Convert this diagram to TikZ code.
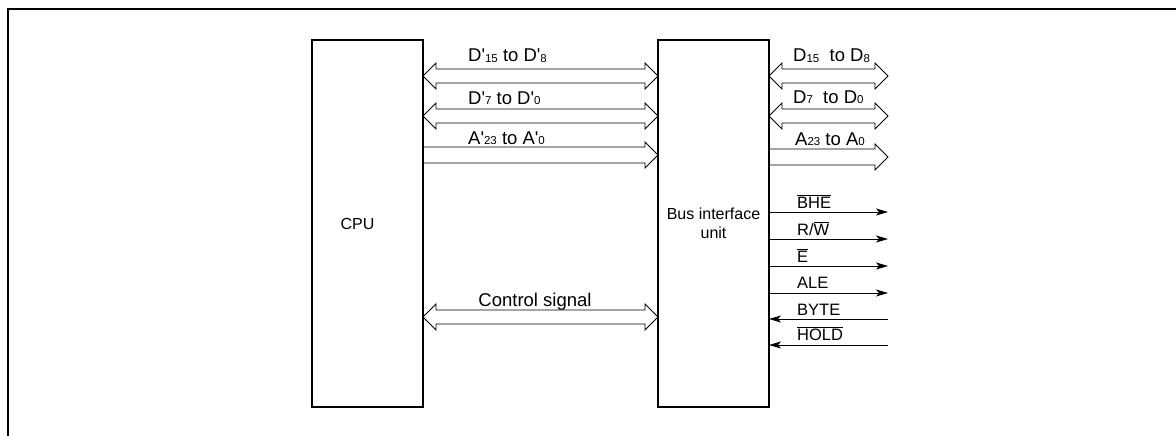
\documentclass[tikz,border=0pt]{standalone}
\usepackage{fontspec}
\setmainfont{Liberation Sans}
\usetikzlibrary{positioning, arrows.meta}

\newcommand{\sub}[1]{\raisebox{-0.8pt}{\fontsize{11.5}{12}\selectfont #1}}
\newcommand{\ovl}[1]{$\overline{\mbox{#1}}$}
\newcommand{\q}{\textquotesingle}

% hollow bus arrow, heads at both ends
\newcommand{\busboth}[2]{%
	\path (#1) coordinate (bs) (#2) coordinate (be);
	\draw[bus] (bs) -- ++(13,-13) -- ++(0,6) -- ([xshift=-13pt,yshift=7pt]be) -- ++(0,-6) -- (be)
		-- ++(-13,13) -- ++(0,-6) -- ([xshift=13pt,yshift=-7pt]bs) -- ++(0,6) -- cycle;}
% hollow bus arrow, head at the right end only
\newcommand{\busright}[2]{%
	\path (#1) coordinate (bs) (#2) coordinate (be);
	\draw[bus] ([yshift=8pt]bs) -- ([xshift=-13pt,yshift=8pt]be) -- ++(0,-5) -- (be)
		-- ++(-13,13) -- ++(0,-5) -- ([yshift=-8pt]bs);}

\begin{document}
\begin{tikzpicture}[
		x=1pt, y=-1pt,
		unit/.style={rectangle, draw, line width=1.3pt, minimum width=111pt,
			minimum height=367pt, align=center, font=\fontsize{16}{19}\selectfont, outer sep=0pt},
		bus/.style={line width=0.8pt, line join=miter},
		sig/.style={-{Stealth[length=12pt, width=7pt, inset=3pt]}, line width=0.8pt},
		lbl/.style={anchor=base west, inner sep=0pt, font=\fontsize{18.5}{19}\selectfont},
		slbl/.style={anchor=base west, inner sep=0pt, font=\fontsize{16.5}{17}\selectfont}
	]
	\useasboundingbox (0,0) rectangle (1176,436);
	\draw[line width=2.2pt] (8,440) |- (1180,9);

	\node[unit] (cpu) at (367.5,223.5) {};
	\node[font=\fontsize{16}{19}\selectfont] (cpulbl) at ([xshift=-10pt]cpu.center) {CPU};
	\node[unit, right=235pt of cpu] (biu) {Bus interface\\unit};

	% buses between CPU and bus interface unit
	\busboth{cpu.east |- 0,76}{biu.west |- 0,76}
	\busboth{cpu.east |- 0,116}{biu.west |- 0,116}
	\busright{cpu.east |- 0,155}{biu.west |- 0,155}
	\busboth{cpu.east |- 0,317}{biu.west |- 0,317}

	\node[lbl] (dhi) at (468,62) {D\q\sub{15} to D\q\sub{8}};
	\node[lbl] (dlo) at (468,104) {D\q\sub{7} to D\q\sub{0}};
	\node[lbl] (adr) at (468,144) {A\q\sub{23} to A\q\sub{0}};
	\node[lbl, anchor=base] (ctl) at (535,306) {Control signal};

	% external buses
	\coordinate (xdhi) at (888,76);
	\coordinate (xdlo) at (888,116);
	\coordinate (xadr) at (888,157);
	\busboth{biu.east |- xdhi}{xdhi}
	\busboth{biu.east |- xdlo}{xdlo}
	\busright{biu.east |- xadr}{xadr}

	\node[lbl] (edhi) at (793,62) {D\sub{15}\ \ to D\sub{8}};
	\node[lbl] (edlo) at (793,103) {D\sub{7}\ \ to D\sub{0}};
	\node[lbl] (eadr) at (795,145) {A\sub{23} to A\sub{0}};

	% control lines
	\coordinate (bhe) at (888,212);
	\coordinate (rw) at (888,239);
	\coordinate (e) at (888,266);
	\coordinate (ale) at (888,293);
	\coordinate (byte) at (888,319);
	\coordinate (hold) at (888,345);
	\draw[sig] (biu.east |- bhe) -- (bhe);
	\draw[sig] (biu.east |- rw) -- (rw);
	\draw[sig] (biu.east |- e) -- (e);
	\draw[sig] (biu.east |- ale) -- (ale);
	\draw[sig] (byte) -- (biu.east |- byte);
	\draw[sig] (hold) -- (biu.east |- hold);

	\node[slbl] (lbhe) at (797,208) {\ovl{BHE}};
	\node[slbl] (lrw) at (797,235) {R/\ovl{W}};
	\node[slbl] (le) at (797,262) {\ovl{E}};
	\node[slbl] (lale) at (797,288) {ALE};
	\node[slbl] (lbyte) at (797,315) {BYTE};
	\node[slbl] (lhold) at (797,340) {\ovl{HOLD}};
\end{tikzpicture}
\end{document}
